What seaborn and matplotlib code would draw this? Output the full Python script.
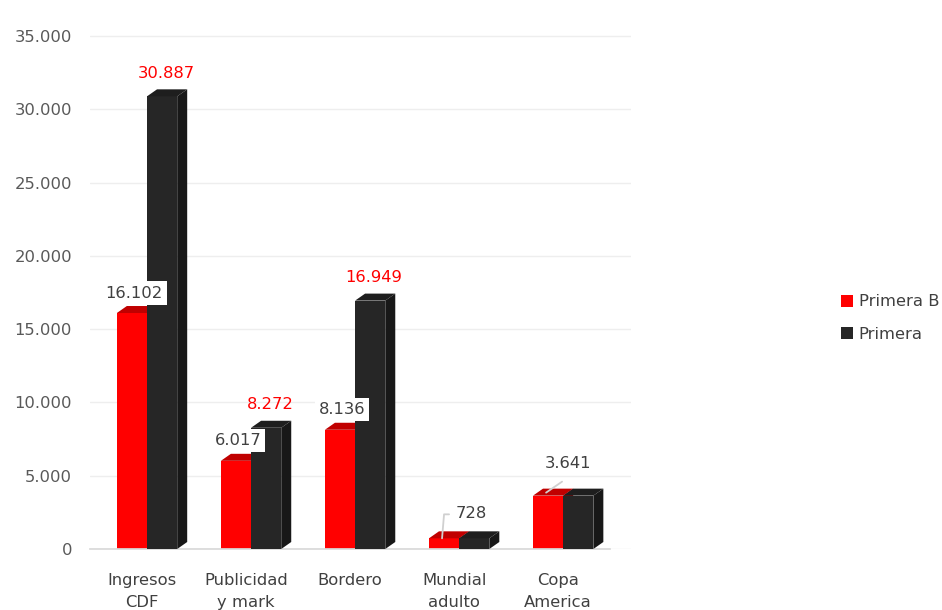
import matplotlib
matplotlib.use("Agg")
import matplotlib.pyplot as plt
import seaborn as sns
import pandas as pd
from matplotlib.patches import Polygon, Patch

categories = ["Ingresos\nCDF", "Publicidad\ny mark", "Bordero", "Mundial\nadulto", "Copa\nAmerica"]
series = ["Primera B", "Primera"]
primera_b = [16102, 6017, 8136, 728, 3641]
primera = [30887, 8272, 16949, 728, 3641]
yticks = [0, 5000, 10000, 15000, 20000, 25000, 30000, 35000]

colors = {"Primera B": "#FF0000", "Primera": "#262626"}
top_colors = {"Primera B": "#C00000", "Primera": "#1E1E1E"}
side_colors = {"Primera B": "#B00000", "Primera": "#181818"}

df = pd.DataFrame({
    "Categoria": categories * 2,
    "Serie": [series[0]] * len(categories) + [series[1]] * len(categories),
    "Valor": primera_b + primera,
})

sns.set_theme(style="white")
plt.rcParams["font.family"] = ["DejaVu Sans"]
FS = 11.8

W, H = 942, 610
fig = plt.figure(figsize=(W / 100, H / 100), dpi=100)
ax = fig.add_axes([90 / W, (H - 549) / H, (631 - 90) / W, (549 - 17) / H])

sns.barplot(data=df, x="Categoria", y="Valor", hue="Serie", hue_order=series,
            order=categories, palette=colors, width=0.58, dodge=True,
            saturation=1, ax=ax, legend=False, zorder=2)

ax.set_xlim(-0.5, 4.7)
ax.set_ylim(0, 36300)

# pixel -> data conversion for 3D faces
ax_w_px = 631 - 90
ax_h_px = 549 - 17
px_x = 5.2 / ax_w_px
px_y = 36300 / ax_h_px
dx = 10 * px_x
dy = 7 * px_y
shift = 5 * px_x

bars = [p for p in ax.patches]
n = len(categories)
for i, p in enumerate(bars):
    s = series[i // n]
    p.set_x(p.get_x() + shift)
    x0 = p.get_x()
    w = p.get_width()
    h = p.get_height()
    z = 2 if s == "Primera B" else 3
    p.set_zorder(z)
    p.set_edgecolor("none")
    top = Polygon([(x0, h), (x0 + w, h), (x0 + w + dx, h + dy), (x0 + dx, h + dy)],
                  closed=True, facecolor=top_colors[s], edgecolor="none", zorder=z)
    side = Polygon([(x0 + w, 0), (x0 + w + dx, dy), (x0 + w + dx, h + dy), (x0 + w, h)],
                   closed=True, facecolor=side_colors[s], edgecolor="none", zorder=z)
    ax.add_patch(top)
    ax.add_patch(side)

# value labels
red_bars = bars[:n]
blk_bars = bars[n:]
for i, (pb, pr) in enumerate(zip(red_bars, blk_bars)):
    vb = primera_b[i]
    vr = primera[i]
    cb = pb.get_x() + pb.get_width() / 2
    cr = pr.get_x() + pr.get_width() / 2
    lab_b = f"{vb:,}".replace(",", ".")
    lab_r = f"{vr:,}".replace(",", ".")
    if vb >= 5000:
        ax.text(cb + 2 * px_x, vb + 20 * px_y, lab_b, ha="center", va="center", fontsize=FS,
                color="#404040", zorder=6,
                bbox=dict(boxstyle="square,pad=0.25", fc="white", ec="none"))
        ax.text(cr + 4 * px_x, vr + 23 * px_y, lab_r, ha="center", va="center", fontsize=FS,
                color="#FF0000", zorder=7)
    else:
        if vb < 2000:
            ax.plot([cb - 2 * px_x, cb, cb + 5 * px_x], [vb, vb + 24 * px_y, vb + 24 * px_y],
                    color="#D0D0D0", lw=1.3, zorder=5)
            ax.text(cb + 12 * px_x, vb + 25 * px_y, lab_b, ha="left", va="center", fontsize=FS,
                    color="#404040", zorder=6)
        else:
            ax.plot([cb - 2 * px_x, cb + 14 * px_x], [vb + 3 * px_y, vb + 14 * px_y],
                    color="#D0D0D0", lw=1.3, zorder=5)
            ax.text(cb + 20 * px_x, vb + 32 * px_y, lab_b, ha="center", va="center", fontsize=FS,
                    color="#404040", zorder=6)

# axes styling
ax.set_yticks(yticks)
ax.set_yticklabels([f"{v:,}".replace(",", ".") for v in yticks])
ax.tick_params(axis="y", length=0, pad=13, labelsize=FS, labelcolor="#595959")
ax.grid(axis="y", color="#EEEEEE", lw=1, zorder=0)
ax.set_axisbelow(True)
for sp in ["top", "right", "left"]:
    ax.spines[sp].set_visible(False)
ax.spines["bottom"].set_color("#D9D9D9")
ax.spines["bottom"].set_bounds(-0.5, 4.5)

ax.set_xticks(range(n))
ax.set_xticklabels(categories, linespacing=1.55)
ax.set_xticks([i - 0.5 for i in range(n + 1)], minor=True)
ax.tick_params(axis="x", which="major", length=0, pad=17.5, labelsize=FS, labelcolor="#404040")
ax.tick_params(axis="x", which="minor", length=6, color="#D9D9D9", direction="out")
ax.set_xlabel("")
ax.set_ylabel("")

handles = [Patch(facecolor=colors[s], edgecolor="none", label=s) for s in series]
fig.legend(handles=handles, loc="center left", bbox_to_anchor=(826 / W, 1 - 318 / H),
           frameon=False, handlelength=0.75, handleheight=0.75, labelspacing=1.05,
           handletextpad=0.35, fontsize=FS, labelcolor="#404040")

fig.savefig("out.png", dpi=100)
